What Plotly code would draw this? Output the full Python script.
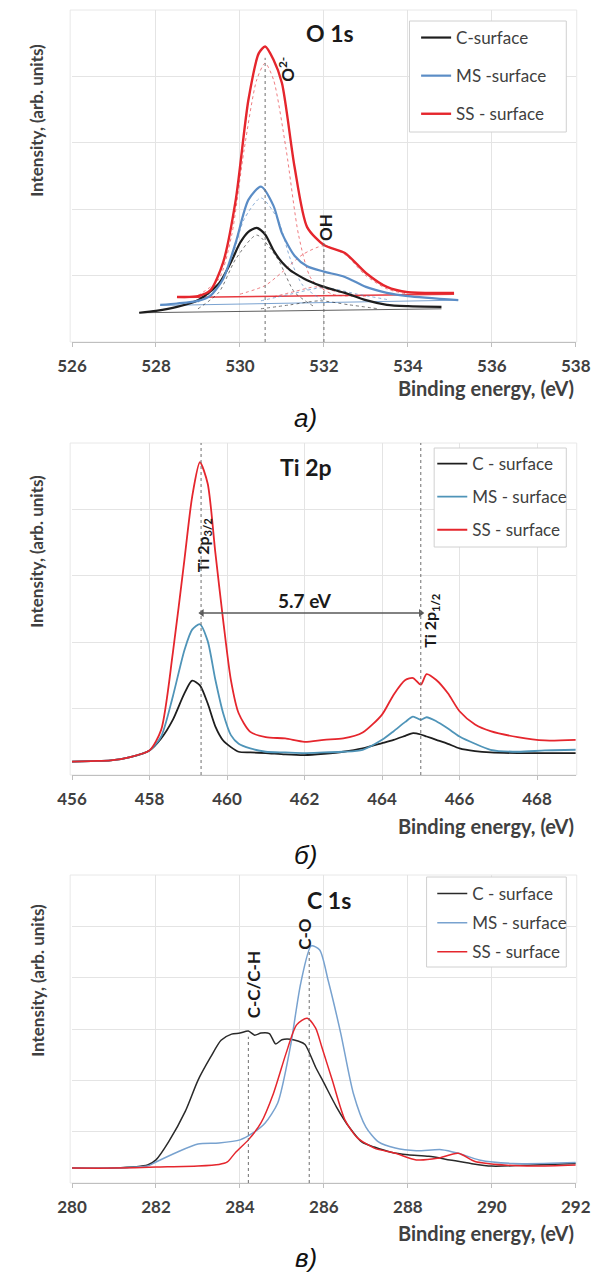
import plotly.graph_objects as go

W, H = 606, 1272

# ---------------- Panel a: O 1s ----------------
o1s_c_x = [527.6, 528.0, 528.5, 529.0, 529.5, 529.8, 530.0, 530.2, 530.4, 530.6, 530.8, 531.0, 531.2, 531.4, 531.6, 532.0, 532.5, 533.0, 533.5, 534.0, 534.8]
o1s_c_y = [0.44, 0.47, 0.53, 0.63, 0.88, 1.22, 1.49, 1.66, 1.72, 1.62, 1.38, 1.20, 1.08, 1.00, 0.93, 0.83, 0.74, 0.63, 0.56, 0.54, 0.53]
o1s_ms_x = [528.1, 528.5, 529.0, 529.3, 529.6, 529.9, 530.2, 530.5, 530.8, 531.0, 531.3, 531.6, 532.0, 532.5, 533.0, 533.5, 534.0, 535.2]
o1s_ms_y = [0.56, 0.58, 0.62, 0.70, 0.95, 1.50, 2.14, 2.34, 2.05, 1.64, 1.30, 1.14, 1.06, 0.98, 0.83, 0.74, 0.69, 0.63]
o1s_ss_x = [528.5, 529.0, 529.3, 529.6, 529.9, 530.2, 530.45, 530.6, 530.8, 531.0, 531.3, 531.6, 532.0, 532.5, 533.0, 533.5, 534.0, 535.1]
o1s_ss_y = [0.68, 0.69, 0.78, 1.20, 2.14, 3.64, 4.35, 4.45, 4.25, 3.90, 2.64, 1.73, 1.46, 1.34, 1.04, 0.83, 0.75, 0.74]

# backgrounds
o1s_bg_c_x, o1s_bg_c_y = [527.6, 534.8], [0.44, 0.50]
o1s_bg_ms_x, o1s_bg_ms_y = [528.1, 535.2], [0.55, 0.63]
o1s_bg_ss_x, o1s_bg_ss_y = [528.5, 535.1], [0.67, 0.72]

# fitted components
o1s_ss_o2_x = [529.0, 529.5, 529.8, 530.1, 530.4, 530.6, 530.8, 531.1, 531.4, 531.7, 532.2, 533.0]
o1s_ss_o2_y = [0.70, 0.95, 1.60, 2.90, 3.95, 4.20, 3.95, 2.90, 1.60, 0.95, 0.72, 0.69]
o1s_ss_oh_x = [530.0, 530.6, 531.0, 531.5, 532.0, 532.5, 533.0, 533.5, 534.0]
o1s_ss_oh_y = [0.72, 0.85, 1.05, 1.32, 1.45, 1.32, 1.00, 0.80, 0.72]
o1s_ss_3_x = [530.8, 531.3, 531.8, 532.3, 532.8]
o1s_ss_3_y = [0.68, 0.76, 0.83, 0.76, 0.70]
o1s_ms_o2_x = [529.0, 529.5, 529.8, 530.1, 530.5, 530.9, 531.2, 531.5, 532.0]
o1s_ms_o2_y = [0.60, 0.85, 1.25, 1.85, 2.17, 1.85, 1.25, 0.85, 0.62]
o1s_ms_oh_x = [530.5, 531.2, 532.0, 532.8, 533.5]
o1s_ms_oh_y = [0.62, 0.72, 0.82, 0.72, 0.64]
o1s_c_o2_x = [529.0, 529.5, 529.9, 530.4, 530.9, 531.3, 531.8]
o1s_c_o2_y = [0.50, 0.75, 1.25, 1.61, 1.25, 0.75, 0.52]
o1s_c_oh_x = [530.5, 531.2, 531.9, 532.6, 533.3]
o1s_c_oh_y = [0.50, 0.56, 0.62, 0.56, 0.50]

o1s_marks_x = [530.6, 532.0]
o1s_marks_top = [4.28, 1.51]

# ---------------- Panel b: Ti 2p ----------------
ti_x = [456.0, 456.5, 457.0, 457.5, 458.0, 458.3, 458.6, 458.9, 459.1, 459.3, 459.5, 459.7, 459.9, 460.1, 460.3, 460.6, 461.0, 461.5, 462.0, 462.5, 463.0, 463.5, 464.0, 464.3, 464.6, 464.8, 465.0, 465.15, 465.4, 465.7, 466.0, 466.4, 466.8, 467.5, 468.2, 469.0]
ti_ss = [0.20, 0.21, 0.22, 0.27, 0.37, 0.68, 1.83, 3.24, 4.19, 4.71, 4.39, 3.34, 2.33, 1.43, 0.93, 0.65, 0.57, 0.55, 0.50, 0.53, 0.55, 0.64, 0.91, 1.21, 1.43, 1.46, 1.36, 1.52, 1.43, 1.23, 0.96, 0.76, 0.66, 0.57, 0.52, 0.53]
ti_ms = [0.20, 0.21, 0.22, 0.27, 0.37, 0.58, 1.18, 1.88, 2.19, 2.27, 2.02, 1.43, 0.93, 0.60, 0.47, 0.40, 0.35, 0.34, 0.33, 0.34, 0.35, 0.38, 0.53, 0.66, 0.80, 0.88, 0.83, 0.87, 0.81, 0.70, 0.58, 0.47, 0.38, 0.35, 0.37, 0.38]
ti_c = [0.20, 0.21, 0.22, 0.27, 0.37, 0.55, 0.83, 1.23, 1.42, 1.35, 1.08, 0.73, 0.52, 0.42, 0.35, 0.34, 0.33, 0.31, 0.30, 0.32, 0.35, 0.40, 0.48, 0.53, 0.59, 0.63, 0.61, 0.58, 0.53, 0.47, 0.40, 0.36, 0.34, 0.33, 0.33, 0.33]
ti_marks_x = [459.33, 465.0]
ti_split_x = [459.35, 465.0]
ti_split_y = [2.44, 2.44]

# ---------------- Panel c: C 1s ----------------
c1s_c_x = [280, 281, 281.8, 282.0, 282.3, 282.7, 283.0, 283.3, 283.55, 283.8, 284.0, 284.2, 284.35, 284.5, 284.7, 284.85, 285.0, 285.2, 285.4, 285.55, 285.8, 286.0, 286.3, 286.6, 286.9, 287.2, 287.6, 288.0, 288.5, 289.0, 289.5, 290.0, 291.0, 292.0]
c1s_c_y = [0.29, 0.29, 0.35, 0.45, 0.80, 1.40, 2.00, 2.45, 2.78, 2.90, 2.92, 2.96, 2.88, 2.92, 2.91, 2.71, 2.79, 2.80, 2.76, 2.70, 2.26, 1.95, 1.48, 1.09, 0.80, 0.70, 0.60, 0.55, 0.52, 0.45, 0.38, 0.33, 0.35, 0.38]
c1s_ms_x = [280, 281, 281.8, 282.0, 282.5, 283.0, 283.5, 284.0, 284.3, 284.6, 284.9, 285.2, 285.45, 285.7, 285.9, 286.1, 286.4, 286.7, 287.0, 287.3, 287.7, 288.2, 288.8, 289.2, 289.7, 290.5, 292.0]
c1s_ms_y = [0.29, 0.29, 0.33, 0.41, 0.60, 0.76, 0.78, 0.84, 0.97, 1.17, 1.56, 2.65, 3.90, 4.62, 4.54, 3.95, 2.92, 1.75, 1.09, 0.80, 0.68, 0.63, 0.65, 0.58, 0.45, 0.38, 0.40]
c1s_ss_x = [280, 281, 282, 283, 283.5, 283.7, 283.9, 284.2, 284.5, 284.8, 285.1, 285.35, 285.6, 285.8, 285.95, 286.2, 286.5, 286.8, 287.2, 287.7, 288.2, 288.7, 289.2, 289.6, 290.3, 291.0, 292.0]
c1s_ss_y = [0.29, 0.29, 0.31, 0.33, 0.36, 0.41, 0.60, 0.84, 1.17, 1.75, 2.53, 3.08, 3.21, 3.02, 2.65, 2.00, 1.23, 0.88, 0.68, 0.58, 0.45, 0.48, 0.58, 0.42, 0.35, 0.33, 0.35]
c1s_marks_x = [284.2, 285.65]
c1s_marks_top = [2.85, 4.54]

legend_names_a = ["C-surface", "MS -surface", "SS - surface"]
legend_names_bc = ["C - surface", "MS - surface", "SS - surface"]

RED = "#E5262D"
BLUE = "#5B8DC6"
BLUE_B = "#4F94B8"
BLUE_C = "#78A2CF"
BLACK = "#1E1E1E"
GRID = "#E4E4E4"
AXC = "#404040"
FONT = "Lato"

def px2x(px):
    return px / W

def py2y(py):
    return 1 - py / H

fig = go.Figure()

def add(x, y, color, width, xa, ya, name=None, legend=None, dash=None, opacity=1.0, shape="spline", group=None):
    fig.add_trace(go.Scatter(
        x=x, y=y, mode="lines", xaxis=xa, yaxis=ya,
        line=dict(color=color, width=width, dash=dash, shape=shape, smoothing=0.7 if shape == "spline" else None),
        opacity=opacity, name=name, showlegend=name is not None,
        legend=legend, legendgroup=group, hoverinfo="skip"))

# Panel a
comp_w = 1.0
add(o1s_bg_c_x, o1s_bg_c_y, BLACK, 1, "x", "y", opacity=0.7, shape="linear")
add(o1s_bg_ms_x, o1s_bg_ms_y, BLUE, 1, "x", "y", opacity=0.8, shape="linear")
add(o1s_bg_ss_x, o1s_bg_ss_y, RED, 1.5, "x", "y", opacity=0.9, shape="linear")
add(o1s_c_o2_x, o1s_c_o2_y, BLACK, comp_w, "x", "y", dash="dot", opacity=0.6)
add(o1s_c_oh_x, o1s_c_oh_y, BLACK, comp_w, "x", "y", dash="dot", opacity=0.6)
add(o1s_ms_o2_x, o1s_ms_o2_y, BLUE, comp_w, "x", "y", dash="dot", opacity=0.7)
add(o1s_ms_oh_x, o1s_ms_oh_y, BLUE, comp_w, "x", "y", dash="dot", opacity=0.7)
add(o1s_ss_o2_x, o1s_ss_o2_y, RED, comp_w, "x", "y", dash="dot", opacity=0.6)
add(o1s_ss_oh_x, o1s_ss_oh_y, RED, comp_w, "x", "y", dash="dot", opacity=0.6)
add(o1s_ss_3_x, o1s_ss_3_y, RED, comp_w, "x", "y", dash="dot", opacity=0.6)
add(o1s_c_x, o1s_c_y, BLACK, 2.2, "x", "y", name=legend_names_a[0], legend="legend", group="a1")
add(o1s_ms_x, o1s_ms_y, BLUE, 2.2, "x", "y", name=legend_names_a[1], legend="legend", group="a2")
add(o1s_ss_x, o1s_ss_y, RED, 2.4, "x", "y", name=legend_names_a[2], legend="legend", group="a3")

# Panel b
add(ti_x, ti_c, BLACK, 1.8, "x2", "y2", name=legend_names_bc[0], legend="legend2", group="b1")
add(ti_x, ti_ms, BLUE_B, 1.8, "x2", "y2", name=legend_names_bc[1], legend="legend2", group="b2")
add(ti_x, ti_ss, RED, 1.8, "x2", "y2", name=legend_names_bc[2], legend="legend2", group="b3")
# spin-orbit splitting double arrow
fig.add_trace(go.Scatter(
    x=ti_split_x, y=ti_split_y, mode="lines+markers", xaxis="x2", yaxis="y2",
    line=dict(color="#595959", width=1.5),
    marker=dict(symbol=["triangle-left", "triangle-right"], size=7, color="#595959"),
    showlegend=False, hoverinfo="skip"))

# Panel c
add(c1s_c_x, c1s_c_y, "#2A2A2A", 1.5, "x3", "y3", name=legend_names_bc[0], legend="legend3", group="c1")
add(c1s_ms_x, c1s_ms_y, BLUE_C, 1.5, "x3", "y3", name=legend_names_bc[1], legend="legend3", group="c2")
add(c1s_ss_x, c1s_ss_y, RED, 1.5, "x3", "y3", name=legend_names_bc[2], legend="legend3", group="c3")

tickfont = dict(family=FONT, size=17, color=AXC, weight="bold")

def xaxis_cfg(rng, anchor):
    return dict(domain=[px2x(60), px2x(590)], range=rng, dtick=2, tick0=rng[0], showgrid=True,
                gridcolor=GRID, gridwidth=1, showline=True, linecolor="#BFBFBF", linewidth=1,
                ticks="outside", ticklen=4, tickcolor="#BFBFBF", tickfont=tickfont,
                ticklabelstandoff=5,
                zeroline=False, anchor=anchor, fixedrange=True)

def yaxis_cfg(dom, top, anchor):
    return dict(domain=[py2y(dom[1]), py2y(dom[0])], range=[0, top], dtick=1, showgrid=True,
                gridcolor=GRID, gridwidth=1, showticklabels=False, showline=False, zeroline=False,
                anchor=anchor, fixedrange=True)

panels = [(10, 342), (443, 775), (875, 1183)]

fig.update_layout(
    width=W, height=H, margin=dict(l=0, r=0, t=0, b=0),
    paper_bgcolor="white", plot_bgcolor="white",
    xaxis=xaxis_cfg([526, 538], "y"),
    yaxis=yaxis_cfg(panels[0], 5, "x"),
    xaxis2=xaxis_cfg([456, 469], "y2"),
    yaxis2=yaxis_cfg(panels[1], 5, "x2"),
    xaxis3=xaxis_cfg([280, 292], "y3"),
    yaxis3=yaxis_cfg(panels[2], 6, "x3"),
    font=dict(family=FONT, color=AXC),
)

def legend_cfg(x_px, y_px, gap):
    return dict(x=px2x(x_px), y=py2y(y_px), xanchor="left", yanchor="top",
                borderwidth=0, bgcolor="rgba(255,255,255,0)",
                font=dict(family=FONT, size=17, color=AXC), itemwidth=30,
                tracegroupgap=gap, traceorder="grouped")

fig.update_layout(
    legend=legend_cfg(422, 20, 13),
    legend2=legend_cfg(439, 446, 8),
    legend3=legend_cfg(439, 876, 4),
)

shapes = []
# plot-area frames
for (t, b) in panels:
    shapes.append(dict(type="rect", xref="paper", yref="paper", x0=px2x(58), x1=px2x(591),
                       y0=py2y(b), y1=py2y(t), line=dict(color="#E8E8E8", width=1), layer="below"))
# legend boxes
for (l, t, r, b) in [(415, 21, 580, 132), (441, 448, 580, 547), (433, 877, 580, 967)]:
    shapes.append(dict(type="rect", xref="paper", yref="paper", x0=px2x(l), x1=px2x(r),
                       y0=py2y(b), y1=py2y(t), line=dict(color="#D0D0D0", width=1),
                       fillcolor="white", layer="above"))

dotline = dict(color="#6E6E6E", width=1, dash="dot")
for xv, top in zip(o1s_marks_x, o1s_marks_top):
    shapes.append(dict(type="line", xref="x", yref="y", x0=xv, x1=xv, y0=0, y1=top, line=dotline))
for xv in ti_marks_x:
    shapes.append(dict(type="line", xref="x2", yref="y2", x0=xv, x1=xv, y0=0, y1=5, line=dotline))
for xv, top in zip(c1s_marks_x, c1s_marks_top):
    shapes.append(dict(type="line", xref="x3", yref="y3", x0=xv, x1=xv, y0=0, y1=top, line=dotline))
fig.update_layout(shapes=shapes)

ann = []
lbl_font = dict(family=FONT, size=17, color="#1A1A1A", weight="bold")
ti_font = dict(family=FONT, size=16, color="#1A1A1A", weight="bold")
title_font = dict(family=FONT, size=23, color="#1A1A1A", weight="bold")
bind_font = dict(family=FONT, size=20, color=AXC, weight="bold")
int_font = dict(family=FONT, size=17, color=AXC, weight="bold")
cap_font = dict(family="Liberation Sans", size=26, color="#111111", style="italic")

titles = [("O 1s", 331, 33), ("Ti 2p", 306, 467), ("C 1s", 330, 900)]
for t, x, y in titles:
    ann.append(dict(text=t, xref="paper", yref="paper", x=px2x(x), y=py2y(y), showarrow=False,
                    xanchor="center", yanchor="middle", font=title_font))

for y_ax in [388, 826, 1233]:
    ann.append(dict(text="Binding energy, (eV)", xref="paper", yref="paper", x=px2x(590), y=py2y(y_ax),
                    showarrow=False, xanchor="right", yanchor="middle", font=bind_font))

for cap, y in [("а)", 418), ("б)", 855), ("в)", 1258)]:
    ann.append(dict(text=cap, xref="paper", yref="paper", x=px2x(306), y=py2y(y), showarrow=False,
                    xanchor="center", yanchor="middle", font=cap_font))

for y in [120, 551, 980]:
    ann.append(dict(text="Intensity, (arb. units)", xref="paper", yref="paper", x=px2x(23), y=py2y(y),
                    showarrow=False, textangle=-90, xanchor="center", yanchor="middle", font=int_font))

# peak labels
ann.append(dict(text="O<sup>2-</sup>", xref="x", yref="y", x=531.09, y=4.11, showarrow=False,
                textangle=-90, font=lbl_font))
ann.append(dict(text="OH", xref="x", yref="y", x=532.02, y=1.73, showarrow=False,
                textangle=-90, font=lbl_font))
ann.append(dict(text="Ti 2p<sub>3/2</sub>", xref="x2", yref="y2", x=459.38, y=3.46, showarrow=False,
                textangle=-90, font=ti_font))
ann.append(dict(text="Ti 2p<sub>1/2</sub>", xref="x2", yref="y2", x=465.25, y=2.33, showarrow=False,
                textangle=-90, font=ti_font))
ann.append(dict(text="5.7 eV", xref="x2", yref="y2", x=462.0, y=2.63, showarrow=False,
                font=dict(family=FONT, size=19, color="#1A1A1A", weight="bold")))
ann.append(dict(text="C-C/C-H", xref="x3", yref="y3", x=284.32, y=3.86, showarrow=False,
                textangle=-90, font=lbl_font))
ann.append(dict(text="C-O", xref="x3", yref="y3", x=285.52, y=4.85, showarrow=False,
                textangle=-90, font=lbl_font))

fig.update_layout(annotations=ann)

fig.write_html("out.html")
